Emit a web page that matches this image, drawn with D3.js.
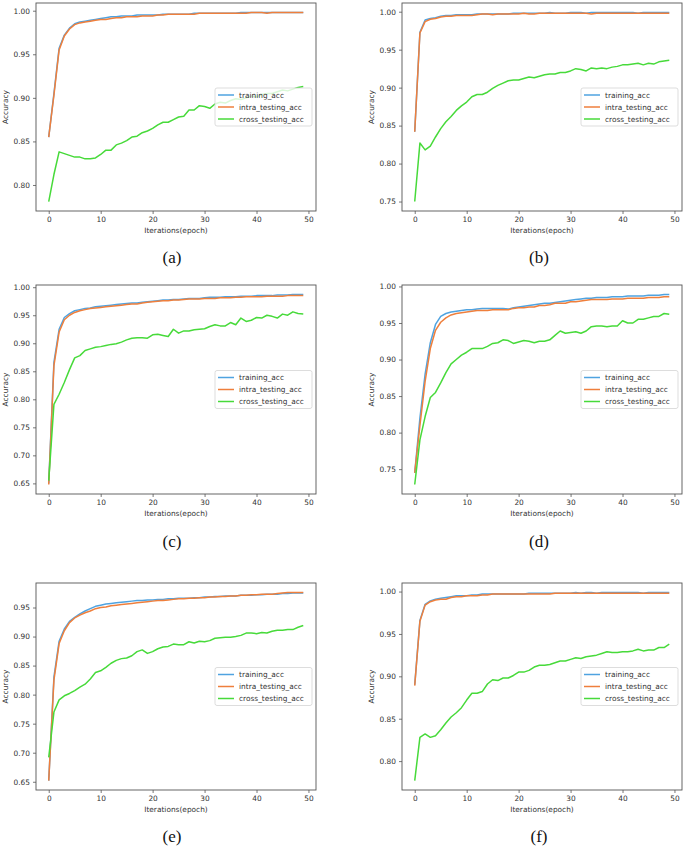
<!DOCTYPE html>
<html><head><meta charset="utf-8">
<script src="https://cdn.jsdelivr.net/npm/d3@7"></script>
<style>body{margin:0;background:#fff}svg{display:block}</style>
</head><body>
<script>
const epochs = d3.range(0, 50);
const seriesNames = ["training_acc", "intra_testing_acc", "cross_testing_acc"];
const seriesColors = ["#4fa3e0", "#ef7f3c", "#47da3a"];
const xTicks = [0, 10, 20, 30, 40, 50];
const captions = ["(a)", "(b)", "(c)", "(d)", "(e)", "(f)"];

const trainA = [0.855,0.905,0.957,0.972,0.980,0.985,0.987,0.988,0.989,0.990,
  0.991,0.992,0.993,0.993,0.994,0.994,0.994,0.995,0.995,0.995,
  0.995,0.995,0.996,0.996,0.996,0.996,0.996,0.996,0.997,0.997,
  0.997,0.997,0.997,0.997,0.997,0.997,0.997,0.998,0.998,0.998,
  0.998,0.998,0.998,0.998,0.998,0.998,0.998,0.998,0.998,0.998];
const intraA = [0.855,0.903,0.955,0.971,0.979,0.984,0.986,0.987,0.988,0.989,
  0.990,0.990,0.991,0.992,0.992,0.993,0.993,0.993,0.994,0.994,
  0.994,0.995,0.995,0.996,0.996,0.996,0.996,0.996,0.996,0.997,
  0.997,0.997,0.997,0.997,0.997,0.997,0.997,0.997,0.997,0.998,
  0.998,0.998,0.997,0.998,0.998,0.998,0.998,0.998,0.998,0.998];
const crossA = [0.781,0.812,0.838,0.836,0.834,0.832,0.832,0.830,0.830,0.831,
  0.835,0.840,0.840,0.846,0.848,0.851,0.855,0.856,0.860,0.862,
  0.865,0.869,0.872,0.872,0.875,0.878,0.879,0.886,0.886,0.891,
  0.890,0.888,0.893,0.895,0.894,0.897,0.899,0.898,0.900,0.902,
  0.901,0.904,0.905,0.905,0.907,0.909,0.908,0.910,0.912,0.913];

const trainB = [0.842,0.973,0.989,0.991,0.992,0.994,0.995,0.995,0.996,0.996,
  0.996,0.996,0.997,0.997,0.997,0.997,0.997,0.997,0.997,0.998,
  0.998,0.998,0.998,0.998,0.998,0.998,0.999,0.998,0.998,0.998,
  0.999,0.999,0.999,0.998,0.999,0.999,0.999,0.999,0.999,0.999,
  0.999,0.999,0.999,0.998,0.999,0.999,0.999,0.999,0.999,0.999];
const intraB = [0.842,0.972,0.987,0.990,0.991,0.993,0.994,0.994,0.995,0.995,
  0.995,0.995,0.996,0.997,0.997,0.996,0.997,0.997,0.997,0.997,
  0.997,0.998,0.997,0.997,0.998,0.998,0.998,0.998,0.998,0.998,
  0.998,0.998,0.998,0.998,0.997,0.998,0.998,0.998,0.998,0.998,
  0.998,0.998,0.998,0.998,0.998,0.998,0.998,0.998,0.998,0.998];
const crossB = [0.750,0.827,0.818,0.823,0.835,0.846,0.855,0.862,0.870,0.876,
  0.881,0.888,0.891,0.891,0.894,0.899,0.903,0.906,0.909,0.910,
  0.910,0.912,0.914,0.913,0.915,0.917,0.918,0.918,0.920,0.920,
  0.922,0.925,0.924,0.922,0.926,0.925,0.926,0.925,0.927,0.928,
  0.930,0.930,0.931,0.932,0.930,0.932,0.931,0.934,0.935,0.936];

const trainC = [0.650,0.866,0.925,0.946,0.953,0.958,0.960,0.962,0.963,0.965,
  0.966,0.967,0.968,0.969,0.970,0.971,0.972,0.972,0.973,0.974,
  0.975,0.976,0.977,0.977,0.978,0.978,0.979,0.980,0.980,0.980,
  0.981,0.982,0.982,0.982,0.983,0.983,0.983,0.984,0.984,0.984,
  0.985,0.985,0.985,0.985,0.986,0.986,0.986,0.987,0.987,0.987];
const intraC = [0.648,0.860,0.920,0.942,0.950,0.955,0.958,0.960,0.962,0.963,
  0.964,0.965,0.966,0.967,0.968,0.969,0.970,0.970,0.972,0.973,
  0.974,0.975,0.976,0.976,0.977,0.977,0.978,0.979,0.979,0.979,
  0.980,0.980,0.980,0.981,0.981,0.981,0.982,0.982,0.983,0.983,
  0.983,0.983,0.984,0.984,0.984,0.984,0.985,0.985,0.985,0.985];
const crossC = [0.655,0.791,0.809,0.830,0.853,0.874,0.878,0.887,0.890,0.893,
  0.894,0.896,0.898,0.899,0.902,0.906,0.909,0.910,0.910,0.909,
  0.915,0.916,0.914,0.912,0.925,0.918,0.922,0.922,0.924,0.925,
  0.926,0.930,0.933,0.931,0.931,0.937,0.933,0.945,0.939,0.941,
  0.946,0.945,0.950,0.948,0.945,0.952,0.950,0.956,0.953,0.952];

const trainD = [0.745,0.820,0.880,0.923,0.948,0.959,0.963,0.965,0.966,0.967,
  0.968,0.968,0.969,0.970,0.970,0.970,0.970,0.970,0.969,0.971,
  0.972,0.973,0.974,0.975,0.976,0.977,0.977,0.978,0.979,0.980,
  0.981,0.982,0.983,0.984,0.984,0.985,0.985,0.985,0.986,0.986,
  0.986,0.987,0.987,0.987,0.987,0.988,0.988,0.988,0.989,0.989];
const intraD = [0.745,0.810,0.870,0.915,0.940,0.951,0.957,0.961,0.963,0.964,
  0.965,0.966,0.967,0.967,0.967,0.968,0.968,0.968,0.968,0.970,
  0.971,0.971,0.972,0.972,0.974,0.974,0.975,0.977,0.977,0.977,
  0.979,0.979,0.980,0.981,0.982,0.982,0.982,0.982,0.983,0.983,
  0.983,0.984,0.984,0.984,0.984,0.985,0.985,0.985,0.986,0.986];
const crossD = [0.729,0.790,0.822,0.848,0.855,0.868,0.882,0.894,0.900,0.906,
  0.910,0.915,0.915,0.915,0.918,0.922,0.923,0.927,0.926,0.922,
  0.924,0.926,0.925,0.923,0.925,0.925,0.927,0.933,0.939,0.936,
  0.937,0.938,0.936,0.939,0.945,0.946,0.946,0.945,0.946,0.946,
  0.953,0.950,0.950,0.955,0.955,0.957,0.959,0.959,0.963,0.962];

const trainE = [0.652,0.830,0.892,0.913,0.926,0.933,0.939,0.944,0.948,0.952,
  0.954,0.956,0.957,0.958,0.959,0.960,0.961,0.962,0.962,0.963,
  0.963,0.964,0.964,0.965,0.965,0.966,0.966,0.966,0.967,0.967,
  0.968,0.968,0.969,0.969,0.970,0.970,0.970,0.971,0.971,0.971,
  0.972,0.972,0.973,0.973,0.973,0.974,0.974,0.975,0.975,0.975];
const intraE = [0.652,0.825,0.888,0.910,0.924,0.932,0.937,0.941,0.944,0.948,
  0.950,0.951,0.953,0.954,0.955,0.956,0.957,0.958,0.959,0.960,
  0.961,0.962,0.962,0.963,0.964,0.965,0.965,0.966,0.966,0.967,
  0.967,0.968,0.968,0.969,0.969,0.970,0.970,0.971,0.971,0.972,
  0.972,0.973,0.973,0.973,0.974,0.975,0.976,0.976,0.976,0.976];
const crossE = [0.692,0.770,0.791,0.798,0.802,0.807,0.813,0.818,0.827,0.838,
  0.841,0.847,0.854,0.859,0.862,0.863,0.867,0.874,0.877,0.871,
  0.874,0.879,0.882,0.883,0.887,0.886,0.886,0.891,0.889,0.892,
  0.891,0.893,0.897,0.898,0.899,0.899,0.900,0.902,0.906,0.906,
  0.905,0.907,0.906,0.909,0.911,0.911,0.912,0.912,0.916,0.919];

const trainF = [0.890,0.966,0.985,0.989,0.991,0.992,0.993,0.994,0.995,0.995,
  0.995,0.996,0.996,0.997,0.997,0.997,0.997,0.997,0.997,0.997,
  0.997,0.997,0.998,0.998,0.998,0.998,0.998,0.998,0.998,0.998,
  0.998,0.999,0.998,0.999,0.999,0.998,0.999,0.999,0.999,0.999,
  0.999,0.999,0.999,0.999,0.998,0.999,0.999,0.999,0.999,0.999];
const intraF = [0.889,0.965,0.984,0.988,0.990,0.991,0.991,0.993,0.994,0.994,
  0.995,0.995,0.995,0.996,0.996,0.997,0.997,0.997,0.997,0.997,
  0.997,0.997,0.997,0.997,0.997,0.997,0.997,0.998,0.998,0.998,
  0.998,0.998,0.998,0.998,0.998,0.998,0.998,0.998,0.998,0.998,
  0.998,0.998,0.998,0.998,0.998,0.998,0.998,0.998,0.998,0.998];
const crossF = [0.777,0.828,0.832,0.828,0.830,0.837,0.845,0.852,0.857,0.863,
  0.872,0.880,0.880,0.882,0.891,0.896,0.895,0.898,0.898,0.901,
  0.905,0.905,0.907,0.911,0.913,0.913,0.914,0.916,0.918,0.918,
  0.920,0.922,0.921,0.923,0.924,0.925,0.927,0.929,0.928,0.928,
  0.929,0.929,0.930,0.932,0.930,0.931,0.931,0.934,0.934,0.938];

const yTicksA = [0.80, 0.85, 0.90, 0.95, 1.00];
const yTicksB = [0.75, 0.80, 0.85, 0.90, 0.95, 1.00];
const yTicksC = [0.65, 0.70, 0.75, 0.80, 0.85, 0.90, 0.95, 1.00];
const yTicksD = [0.75, 0.80, 0.85, 0.90, 0.95, 1.00];
const yTicksE = [0.65, 0.70, 0.75, 0.80, 0.85, 0.90, 0.95];
const yTicksF = [0.80, 0.85, 0.90, 0.95, 1.00];

const panels = [
  {series:[trainA,intraA,crossA], yTicks:yTicksA},
  {series:[trainB,intraB,crossB], yTicks:yTicksB},
  {series:[trainC,intraC,crossC], yTicks:yTicksC},
  {series:[trainD,intraD,crossD], yTicks:yTicksD},
  {series:[trainE,intraE,crossE], yTicks:yTicksE},
  {series:[trainF,intraF,crossF], yTicks:yTicksF}
];

// layout
const W = 685, H = 847;
const colL = [36, 402], plotW = 280;
const rowTop = [3, 285, 583], rowBot = [211, 494, 790];
const capY = [263, 547, 842];
const capX = [172, 539];

const svg = d3.select("body").append("svg").attr("width", W).attr("height", H);
const FONT = "DejaVu Sans, sans-serif";
const TXT = "#333";
const SPINE = "#555";
const FS = "7.4px";

panels.forEach((p, i) => {
  const col = i % 2, row = Math.floor(i / 2);
  const L = colL[col], R = L + plotW, T = rowTop[row], B = rowBot[row];
  const all = p.series.flat();
  const mn = d3.min(all), mx = d3.max(all), m = (mx - mn) * 0.05;
  const x = d3.scaleLinear().domain([-2.45, 51.45]).range([L, R]);
  const y = d3.scaleLinear().domain([mn - m, mx + m]).range([B, T]);
  const g = svg.append("g");

  // lines
  const line = d3.line().x((d, k) => x(epochs[k])).y(d => y(d));
  p.series.forEach((s, k) => {
    g.append("path").datum(s).attr("d", line).attr("fill", "none")
      .attr("stroke", seriesColors[k]).attr("stroke-width", 1.5)
      .attr("stroke-linejoin", "round");
  });

  // axes
  const xa = g.append("g").attr("transform", `translate(0,${B})`)
    .call(d3.axisBottom(x).tickValues(xTicks).tickSize(3).tickPadding(3).tickFormat(d3.format("d")));
  const ya = g.append("g").attr("transform", `translate(${L},0)`)
    .call(d3.axisLeft(y).tickValues(p.yTicks).tickSize(3).tickPadding(3).tickFormat(d3.format(".2f")));
  [xa, ya].forEach(a => {
    a.select(".domain").remove();
    a.selectAll(".tick line").attr("stroke", SPINE).attr("stroke-width", 0.8);
    a.selectAll(".tick text").attr("fill", TXT).style("font-family", FONT).style("font-size", FS);
  });
  g.append("rect").attr("x", L).attr("y", T).attr("width", R - L).attr("height", B - T)
    .attr("fill", "none").attr("stroke", SPINE).attr("stroke-width", 0.9);

  // axis labels
  g.append("text").attr("x", (L + R) / 2).attr("y", B + 22).attr("text-anchor", "middle")
    .attr("fill", TXT).style("font-family", FONT).style("font-size", FS).text("Iterations(epoch)");
  g.append("text").attr("transform", `translate(${L - 28},${(T + B) / 2}) rotate(-90)`)
    .attr("text-anchor", "middle").attr("fill", TXT).style("font-family", FONT).style("font-size", FS)
    .text("Accuracy");

  // legend (center right)
  const lw = 97, lh = 38;
  const lx = R - 4 - lw, ly = (T + B) / 2 - lh / 2;
  const lg = g.append("g").attr("transform", `translate(${lx},${ly})`);
  lg.append("rect").attr("width", lw).attr("height", lh).attr("rx", 2)
    .attr("fill", "#fff").attr("fill-opacity", 0.8).attr("stroke", "#d4d4d4").attr("stroke-width", 0.8);
  seriesNames.forEach((n, k) => {
    const yy = 7 + k * 12;
    lg.append("line").attr("x1", 3).attr("x2", 19).attr("y1", yy).attr("y2", yy)
      .attr("stroke", seriesColors[k]).attr("stroke-width", 1.5);
    lg.append("text").attr("x", 24).attr("y", yy).attr("dy", "0.35em").attr("fill", TXT)
      .style("font-family", FONT).style("font-size", FS).text(n);
  });

  // caption
  svg.append("text").attr("x", capX[col]).attr("y", capY[row]).attr("text-anchor", "middle")
    .attr("fill", "#111").style("font-family", "Liberation Serif, Times New Roman, serif")
    .style("font-size", "17px").text(captions[i]);
});
</script>
</body></html>
